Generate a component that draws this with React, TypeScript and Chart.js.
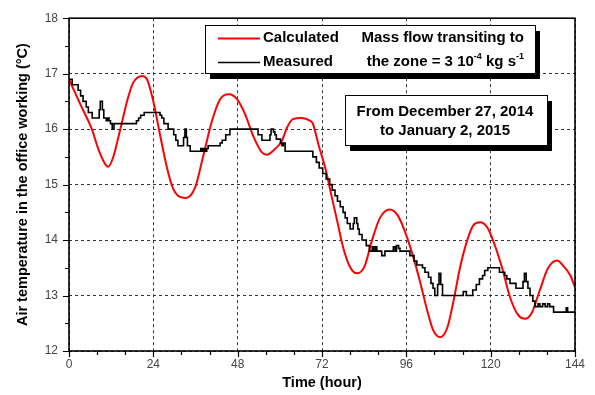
import { useEffect, useRef } from "react";
import { Chart, registerables } from "chart.js";

Chart.register(...registerables);

// Simulated indoor temperature (°C) vs time (h)
const calcHours = [
  0, 3.2, 6.5, 8.3, 10.2, 11.1, 12.5, 14.5, 16.5, 18.2, 20.8, 22.2, 24, 25.9, 27.9, 29.6, 31, 33.3,
  35.9, 38.1, 40.7, 43, 45.6, 47.8, 50.1, 52.4, 54.9, 56.3, 58.6, 60.6, 62, 63.7, 66.3, 68.6, 69.4,
  70.2, 71.0, 72.9, 74.8, 76.3, 78, 80, 82, 84.2, 86.2, 88.5, 91.3, 93.6, 96.2, 98.5, 99.9, 101.9,
  103.6, 105.6, 107.6, 109.3, 111.3, 113.3, 115, 117, 119, 120.7, 123.2, 125.5, 127.8, 129.8, 131.8,
  134, 136.3, 138.9, 140.6, 142.6, 144,
];
const calcTemps = [
  16.9, 16.45, 16.0, 15.65, 15.38, 15.32, 15.48, 15.97, 16.5, 16.83, 16.96, 16.9, 16.5, 15.9, 15.3,
  14.93, 14.8, 14.76, 14.95, 15.49, 16.15, 16.54, 16.63, 16.54, 16.27, 15.88, 15.58, 15.54, 15.64,
  15.79, 16.02, 16.18, 16.2, 16.15, 16.1, 15.92, 15.72, 15.31, 14.77, 14.35, 13.87, 13.51, 13.4,
  13.54, 13.99, 14.4, 14.55, 14.44, 14.05, 13.58, 13.25, 12.74, 12.38, 12.25, 12.41, 12.86, 13.51,
  13.99, 14.26, 14.32, 14.23, 13.99, 13.51, 12.97, 12.65, 12.58, 12.7, 13.1, 13.49, 13.63, 13.54,
  13.37, 13.15,
];

// Logged indoor temperature: each value holds until the next time stamp
const measHours = [
  0, 0.9, 2.6, 3.3, 4.0, 4.9, 5.5, 6.6, 8.6, 8.9, 9.5, 9.9, 10.6, 11.0, 11.4, 11.8, 12.3, 12.8,
  19.2, 19.8, 20.4, 21.4, 25.9, 26.4, 27.0, 28.2, 29.8, 30.4, 31.0, 32.6, 33.0, 33.4, 33.7, 34.5,
  37.5, 37.9, 38.3, 38.8, 39.2, 39.6, 43.0, 43.6, 44.6, 45.8, 53.8, 54.9, 57.2, 57.5, 58.2, 58.6,
  59.0, 60.2, 60.6, 61.0, 61.5, 69.4, 70.4, 71.2, 72.2, 73.2, 74.2, 74.9, 75.7, 76.4, 77.2, 78.0,
  78.6, 79.2, 80.0, 80.9, 81.2, 81.9, 82.2, 82.6, 83.4, 84.6, 85.5, 86.3, 86.7, 87.2, 87.6, 89.0,
  89.9, 92.3, 92.8, 93.2, 93.8, 94.2, 97.0, 98.2, 99.0, 100.6, 101.3, 102.3, 103.0, 103.6, 104.1,
  104.9, 105.3, 105.8, 106.3, 112.2, 113.1, 114.9, 115.9, 116.8, 117.7, 118.3, 119.2, 122.5, 124.0,
  124.6, 125.5, 127.2, 129.2, 129.6, 130.1, 130.6, 131.2, 132.0, 132.6, 133.5, 134.0, 134.8, 135.5,
  136.2, 136.8, 137.9, 141.5, 141.9, 144,
];
const measTemps = [
  16.9, 16.8, 16.7, 16.6, 16.5, 16.4, 16.3, 16.2, 16.35, 16.5, 16.35, 16.2, 16.15, 16.2, 16.15, 16.1,
  16.0, 16.1, 16.15, 16.2, 16.25, 16.3, 16.25, 16.2, 16.1, 16.0, 15.9, 15.8, 15.7, 15.85, 16.0, 15.85,
  15.7, 15.6, 15.65, 15.6, 15.65, 15.6, 15.65, 15.7, 15.75, 15.8, 15.9, 16.0, 15.9, 15.8, 15.9, 16.0,
  15.95, 15.9, 15.82, 15.75, 15.7, 15.75, 15.6, 15.5, 15.4, 15.3, 15.2, 15.1, 15.0, 14.9, 14.8, 14.7,
  14.6, 14.5, 14.4, 14.3, 14.2, 14.3, 14.4, 14.3, 14.2, 14.1, 14.0, 13.9, 13.8, 13.88, 13.8, 13.88,
  13.8, 13.72, 13.8, 13.88, 13.8, 13.9, 13.85, 13.8, 13.72, 13.62, 13.55, 13.5, 13.42, 13.33, 13.22,
  13.13, 13.0, 13.2, 13.4, 13.2, 13.0, 13.07, 13.0, 13.1, 13.2, 13.3, 13.36, 13.45, 13.5, 13.42,
  13.36, 13.3, 13.22, 13.13, 13.25, 13.4, 13.25, 13.13, 13.0, 12.9, 12.8, 12.85, 12.8, 12.85, 12.8,
  12.85, 12.8, 12.7, 12.78, 12.7, 12.7,
];

const xTickValues = [0, 24, 48, 72, 96, 120, 144];
const xMinorStep = 8;
const yTickValues = [12, 13, 14, 15, 16, 17, 18];
const yMinorStep = 0.5;

const FONT = '"Liberation Sans", Arial, Helvetica, sans-serif';
const RED = "#ff0000";
const NOTE_FONT = `bold 15px ${FONT}`;
const SUP_FONT = `bold 9px ${FONT}`;

type Piece = { text: string; sup?: boolean };

function drawPieces(ctx: CanvasRenderingContext2D, pieces: Piece[], rightX: number, y: number) {
  const widths = pieces.map((p) => {
    ctx.font = p.sup ? SUP_FONT : NOTE_FONT;
    return ctx.measureText(p.text).width;
  });
  let x = rightX - widths.reduce((a, b) => a + b, 0);
  pieces.forEach((p, i) => {
    ctx.font = p.sup ? SUP_FONT : NOTE_FONT;
    ctx.textAlign = "left";
    ctx.fillText(p.text, x, p.sup ? y - 5 : y);
    x += widths[i];
  });
}

function shadowBox(ctx: CanvasRenderingContext2D, x: number, y: number, w: number, h: number) {
  ctx.fillStyle = "#000";
  ctx.fillRect(x + 5, y + 6, w, h);
  ctx.fillStyle = "#fff";
  ctx.fillRect(x, y, w, h);
  ctx.strokeStyle = "#000";
  ctx.lineWidth = 1;
  ctx.strokeRect(x + 0.5, y + 0.5, w, h);
}

const framePlugin = {
  id: "frameAndNotes",
  afterDraw(chart: any) {
    const { ctx, chartArea, scales } = chart;
    const { left, right, top, bottom } = chartArea;
    const xs = scales.x;
    const ys = scales.y;
    ctx.save();

    // axis ticks (outward), major and minor
    ctx.strokeStyle = "#000";
    ctx.lineWidth = 1.2;
    ctx.beginPath();
    for (let v = xs.min; v <= xs.max + 1e-6; v += xMinorStep) {
      const px = Math.round(xs.getPixelForValue(v)) + 0.5;
      const len = xTickValues.includes(v) ? 6 : 4;
      ctx.moveTo(px, bottom);
      ctx.lineTo(px, bottom + len);
    }
    for (let v = ys.min; v <= ys.max + 1e-6; v += yMinorStep) {
      const py = Math.round(ys.getPixelForValue(v)) + 0.5;
      const len = yTickValues.includes(v) ? 6 : 4;
      ctx.moveTo(left, py);
      ctx.lineTo(left - len, py);
    }
    ctx.stroke();

    // plot frame
    ctx.lineWidth = 1.6;
    ctx.strokeRect(left, top, right - left, bottom - top);

    // legend box
    shadowBox(ctx, 205, 25, 330, 48);
    ctx.lineWidth = 2;
    ctx.strokeStyle = RED;
    ctx.beginPath();
    ctx.moveTo(218, 38.5);
    ctx.lineTo(260, 38.5);
    ctx.stroke();
    ctx.lineWidth = 1.6;
    ctx.strokeStyle = "#000";
    ctx.beginPath();
    ctx.moveTo(218, 62.5);
    ctx.lineTo(260, 62.5);
    ctx.stroke();

    ctx.fillStyle = "#000";
    ctx.textBaseline = "middle";
    ctx.font = NOTE_FONT;
    ctx.textAlign = "left";
    ctx.fillText("Calculated", 263, 38);
    ctx.fillText("Measured", 263, 62);
    ctx.textAlign = "right";
    ctx.fillText("Mass flow transiting to", 524, 38);
    drawPieces(
      ctx,
      [
        { text: "the zone = 3 10" },
        { text: "-4", sup: true },
        { text: " kg s" },
        { text: "-1", sup: true },
      ],
      524,
      62
    );

    // period box
    shadowBox(ctx, 345, 95, 202, 50);
    ctx.fillStyle = "#000";
    ctx.font = NOTE_FONT;
    ctx.textAlign = "center";
    ctx.textBaseline = "middle";
    ctx.fillText("From December 27, 2014", 445, 112);
    ctx.fillText("to January 2, 2015", 445, 131);

    ctx.restore();
  },
};

export default function App() {
  const canvasRef = useRef<HTMLCanvasElement | null>(null);

  useEffect(() => {
    const canvas = canvasRef.current;
    if (!canvas) return;

    const calculated = calcHours.map((h, i) => ({ x: h, y: calcTemps[i] }));
    const measured = measHours.map((h, i) => ({ x: h, y: measTemps[i] }));

    const chart = new Chart(canvas, {
      type: "line",
      data: {
        datasets: [
          {
            label: "Measured",
            data: measured,
            borderColor: "#000",
            borderWidth: 1.6,
            pointRadius: 0,
            stepped: "before",
            fill: false,
          },
          {
            label: "Calculated",
            data: calculated,
            borderColor: RED,
            borderWidth: 2,
            pointRadius: 0,
            cubicInterpolationMode: "monotone",
            fill: false,
          },
        ],
      },
      options: {
        animation: false,
        responsive: false,
        maintainAspectRatio: false,
        layout: { padding: { left: 0, right: 20, top: 17, bottom: 0 } },
        plugins: {
          legend: { display: false },
          tooltip: { enabled: false },
        },
        scales: {
          x: {
            type: "linear",
            min: 0,
            max: 144,
            afterFit: (s: any) => {
              s.height = 44;
            },
            afterBuildTicks: (s: any) => {
              s.ticks = xTickValues.map((v) => ({ value: v }));
            },
            grid: { color: "#333", lineWidth: 1, drawTicks: false },
            border: { display: false, dash: [3, 3] },
            ticks: {
              padding: 6,
              color: "#444",
              font: { family: FONT, size: 12 },
              maxRotation: 0,
            },
            title: {
              display: true,
              text: "Time (hour)",
              color: "#000",
              font: { family: FONT, size: 14.5, weight: "bold" },
              padding: { top: 0, bottom: 3.5 },
            },
          },
          y: {
            min: 12,
            max: 18,
            afterFit: (s: any) => {
              s.width = 69;
            },
            afterBuildTicks: (s: any) => {
              s.ticks = yTickValues.map((v) => ({ value: v }));
            },
            grid: { color: "#333", lineWidth: 1, drawTicks: false },
            border: { display: false, dash: [3, 3] },
            ticks: {
              padding: 11,
              color: "#444",
              font: { family: FONT, size: 12 },
            },
            title: {
              display: true,
              text: "Air temperature in the office working (°C)",
              color: "#000",
              font: { family: FONT, size: 14.5, weight: "bold" },
              padding: { top: 14, bottom: 0 },
            },
          },
        },
      },
      plugins: [framePlugin],
    });

    return () => chart.destroy();
  }, []);

  return (
    <div style={{ position: "fixed", left: 0, top: 0, width: 595, height: 395, background: "#fff" }}>
      <canvas ref={canvasRef} width={595} height={395} />
    </div>
  );
}
